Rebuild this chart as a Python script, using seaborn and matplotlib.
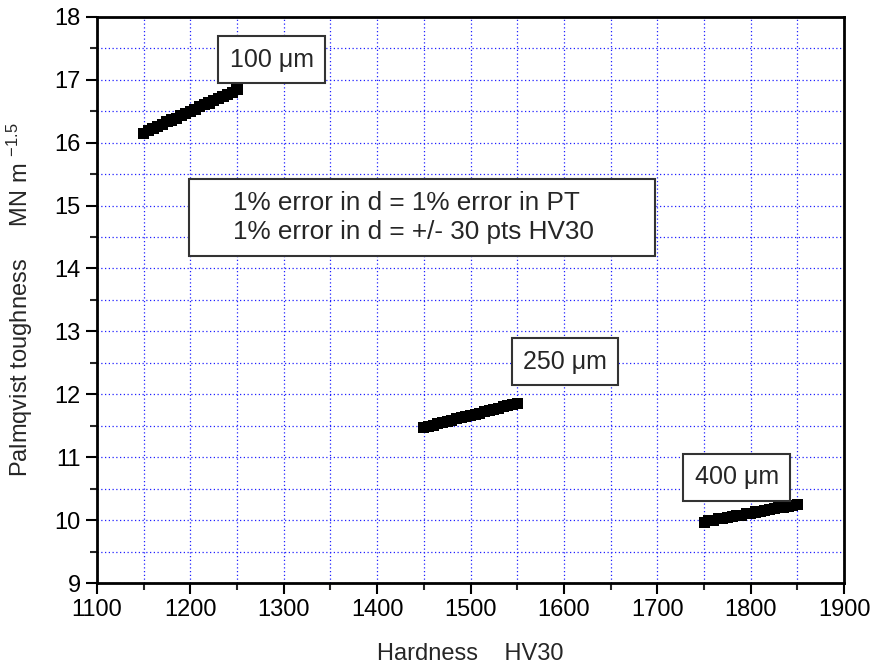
import matplotlib
matplotlib.use("Agg")
import matplotlib.pyplot as plt
import pandas as pd
import seaborn as sns
from matplotlib.patches import Rectangle
from matplotlib.ticker import MultipleLocator

# band: hardness HV30 vs Palmqvist toughness, per indent size
hv_100 = [1150, 1155, 1160, 1165, 1170, 1175, 1180, 1185, 1190, 1195, 1200,
          1205, 1210, 1215, 1220, 1225, 1230, 1235, 1240, 1245, 1250]
pt_100 = [16.15, 16.19, 16.22, 16.26, 16.29, 16.33, 16.36, 16.39, 16.43, 16.46, 16.50,
          16.53, 16.57, 16.60, 16.63, 16.67, 16.70, 16.74, 16.77, 16.80, 16.84]
hv_250 = [1450, 1455, 1460, 1465, 1470, 1475, 1480, 1485, 1490, 1495, 1500,
          1505, 1510, 1515, 1520, 1525, 1530, 1535, 1540, 1545, 1550]
pt_250 = [11.47, 11.49, 11.51, 11.53, 11.55, 11.57, 11.59, 11.61, 11.63, 11.65, 11.67,
          11.68, 11.70, 11.72, 11.74, 11.76, 11.78, 11.80, 11.82, 11.84, 11.86]
hv_400 = [1750, 1755, 1760, 1765, 1770, 1775, 1780, 1785, 1790, 1795, 1800,
          1805, 1810, 1815, 1820, 1825, 1830, 1835, 1840, 1845, 1850]
pt_400 = [9.97, 9.99, 10.00, 10.02, 10.03, 10.04, 10.06, 10.07, 10.08, 10.10, 10.11,
          10.13, 10.14, 10.16, 10.17, 10.18, 10.20, 10.21, 10.22, 10.24, 10.25]
labels = ["100 μm", "250 μm", "400 μm"]
note = "1% error in d = 1% error in PT\n1% error in d = +/- 30 pts HV30"

frames = []
for lab, hv, pt in zip(labels, [hv_100, hv_250, hv_400], [pt_100, pt_250, pt_400]):
    frames.append(pd.DataFrame({"hv": hv, "pt": pt, "size": lab}))
df = pd.concat(frames, ignore_index=True)

sns.set_style("ticks")
plt.rcParams["font.family"] = ["Liberation Sans", "DejaVu Sans"]
plt.rcParams["mathtext.default"] = "regular"

fig = plt.figure(figsize=(8.73, 6.71), dpi=100)
ax = fig.add_axes([0.111, 0.131, 0.856, 0.844])

sns.scatterplot(data=df, x="hv", y="pt", hue="size", palette=["black"] * 3,
                marker="s", s=64, linewidth=0, legend=False, ax=ax, zorder=3)

ax.set_xlim(1100, 1900)
ax.set_ylim(9, 18)
ax.xaxis.set_major_locator(MultipleLocator(100))
ax.xaxis.set_minor_locator(MultipleLocator(50))
ax.yaxis.set_major_locator(MultipleLocator(1))
ax.yaxis.set_minor_locator(MultipleLocator(0.5))
ax.grid(which="both", color="#2020ff", linestyle=(0, (1, 2)), linewidth=0.9)
ax.set_axisbelow(True)

ax.tick_params(which="major", direction="out", length=8, width=1.5, labelsize=17,
               top=False, right=False, colors="black")
ax.tick_params(which="minor", direction="out", length=5, width=1.5, top=False, right=False)
for sp in ax.spines.values():
    sp.set_visible(True)
    sp.set_linewidth(2)
    sp.set_color("black")

ax.set_xlabel("Hardness    HV30", fontsize=17, labelpad=16)
ax.set_ylabel("Palmqvist toughness     MN m $^{-1.5}$", fontsize=17, labelpad=14)

box = dict(boxstyle="square,pad=0.45", facecolor="white", edgecolor="#333333", linewidth=1.5)
ax.text(1287, 17.32, labels[0], fontsize=18, ha="center", va="center", bbox=box, zorder=4)
ax.text(1601, 12.52, labels[1], fontsize=18, ha="center", va="center", bbox=box, zorder=4)
ax.text(1785, 10.68, labels[2], fontsize=18, ha="center", va="center", bbox=box, zorder=4)

# note box drawn in axes fraction, text left aligned inside it
ax.add_patch(Rectangle((0.123, 0.578), 0.624, 0.136, transform=ax.transAxes,
                       facecolor="white", edgecolor="#333333", linewidth=1.5, zorder=4))
ax.text(1246, 14.81, note, fontsize=18.8, ha="left", va="center", linespacing=1.25, zorder=5)

fig.savefig("out.png", dpi=100)
